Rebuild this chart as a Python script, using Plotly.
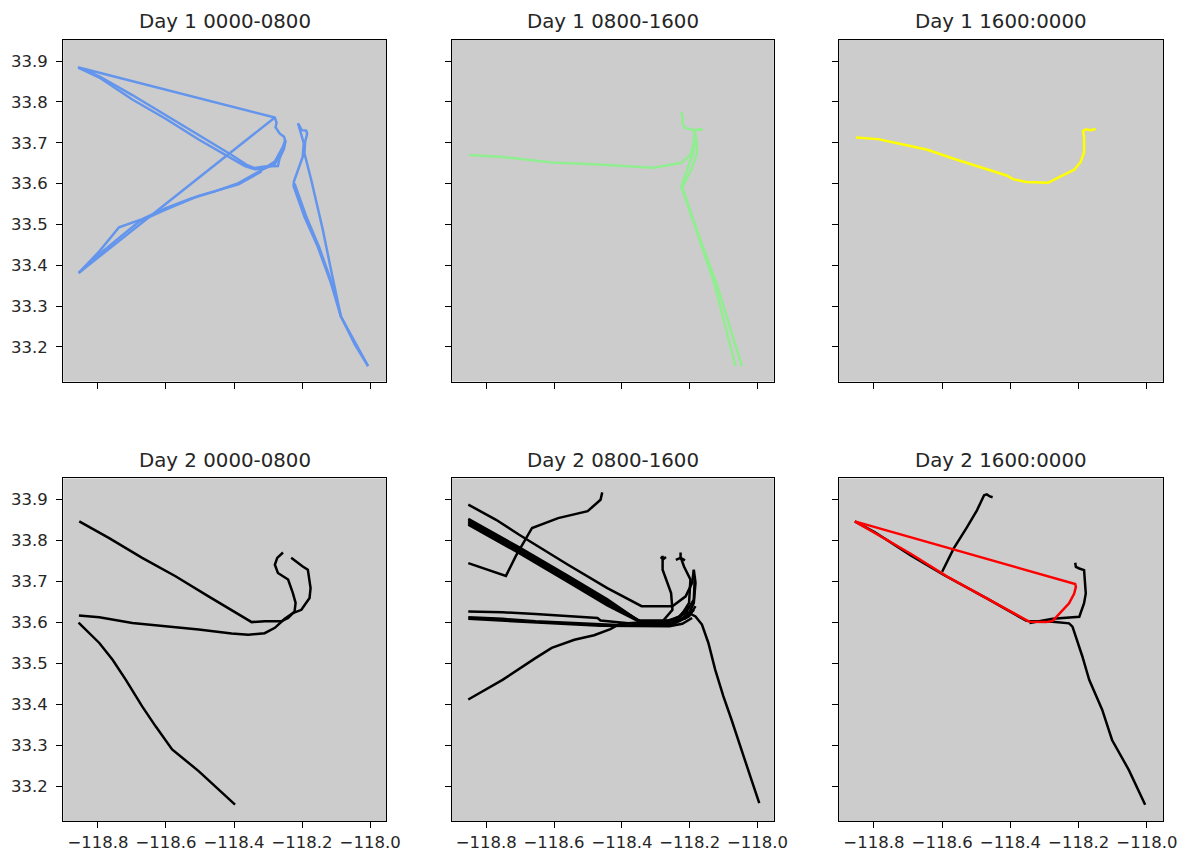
import plotly.graph_objects as go

# ---------------- data (lon / lat tracks per panel) ----------------
titles = ["Day 1 0000-0800", "Day 1 0800-1600", "Day 1 1600:0000",
          "Day 2 0000-0800", "Day 2 0800-1600", "Day 2 1600:0000"]

x_tickvals = [-118.8, -118.6, -118.4, -118.2, -118.0]
x_ticktext = ["\u2212118.8", "\u2212118.6", "\u2212118.4", "\u2212118.2", "\u2212118.0"]
y_tickvals = [33.2, 33.3, 33.4, 33.5, 33.6, 33.7, 33.8, 33.9]
y_ticktext = ["33.2", "33.3", "33.4", "33.5", "33.6", "33.7", "33.8", "33.9"]

# Day 1 0000-0800 (blue)
d1a_lon = [
    [-118.859, -118.280, -118.275, -118.278, -118.266, -118.253, -118.249, -118.253, -118.266, -118.271,
     -118.310, -118.339, -118.363, -118.407, -118.504, -118.601, -118.699, -118.796, -118.859],
    [-118.855, -118.796, -118.699, -118.601, -118.504, -118.417, -118.368, -118.339, -118.310, -118.280,
     -118.256, -118.249],
    [-118.857, -118.700, -118.550, -118.400, -118.280],
    [-118.857, -118.796, -118.738, -118.670, -118.601, -118.524, -118.456, -118.387, -118.319, -118.280,
     -118.256, -118.249],
    [-118.855, -118.806, -118.747, -118.679, -118.601, -118.504, -118.387, -118.319],
    [-118.212, -118.207, -118.195, -118.198, -118.212, -118.224, -118.225, -118.219, -118.193, -118.154,
     -118.115, -118.086, -118.042, -118.006],
    [-118.210, -118.201, -118.188, -118.185, -118.191, -118.193, -118.173, -118.139, -118.115, -118.086,
     -118.045, -118.006],
    [-118.222, -118.188, -118.150, -118.112, -118.086],
]
d1a_lat = [
    [33.885, 33.762, 33.749, 33.738, 33.723, 33.715, 33.703, 33.686, 33.662, 33.643,
     33.642, 33.638, 33.646, 33.670, 33.719, 33.768, 33.817, 33.863, 33.885],
    [33.883, 33.860, 33.806, 33.759, 33.708, 33.666, 33.643, 33.635, 33.637, 33.648, 33.684, 33.705],
    [33.381, 33.485, 33.584, 33.683, 33.762],
    [33.381, 33.434, 33.493, 33.513, 33.540, 33.564, 33.581, 33.601, 33.633, 33.654, 33.691, 33.707],
    [33.382, 33.420, 33.461, 33.507, 33.536, 33.570, 33.598, 33.630],
    [33.748, 33.735, 33.699, 33.666, 33.633, 33.605, 33.594, 33.580, 33.519, 33.446, 33.356, 33.275,
     33.206, 33.153],
    [33.745, 33.731, 33.730, 33.722, 33.703, 33.674, 33.609, 33.487, 33.389, 33.275, 33.206, 33.153],
    [33.600, 33.520, 33.445, 33.355, 33.275],
]

# Day 1 0800-1600 (green)
d1b_lon = [
    [-118.850, -118.761, -118.607, -118.471, -118.307, -118.225, -118.198, -118.188, -118.186, -118.162],
    [-118.225, -118.220, -118.222, -118.215, -118.186, -118.183, -118.191, -118.225, -118.181, -118.128,
     -118.065],
    [-118.162, -118.186, -118.179, -118.179, -118.196, -118.222, -118.176, -118.118, -118.046],
]
d1b_lat = [
    [33.670, 33.666, 33.652, 33.647, 33.639, 33.651, 33.670, 33.699, 33.731, 33.733],
    [33.776, 33.762, 33.748, 33.737, 33.731, 33.707, 33.674, 33.593, 33.487, 33.356, 33.153],
    [33.733, 33.731, 33.699, 33.673, 33.633, 33.591, 33.479, 33.348, 33.153],
]

# Day 1 1600:0000 (yellow)
d1c_lon = [
    [-118.853, -118.788, -118.721, -118.643, -118.566, -118.489, -118.411, -118.392, -118.353, -118.290,
     -118.247, -118.213, -118.194, -118.184, -118.184, -118.187, -118.179, -118.165, -118.150],
]
d1c_lat = [
    [33.713, 33.709, 33.697, 33.683, 33.661, 33.641, 33.620, 33.611, 33.604, 33.602,
     33.620, 33.634, 33.653, 33.677, 33.713, 33.729, 33.733, 33.731, 33.734],
]

# Day 2 0000-0800 (black)
d2a_lon = [
    [-118.855, -118.767, -118.670, -118.572, -118.475, -118.407, -118.348, -118.310, -118.261, -118.241,
     -118.222, -118.219, -118.227, -118.241, -118.256, -118.271, -118.280, -118.273, -118.256],
    [-118.856, -118.796, -118.699, -118.601, -118.504, -118.407, -118.358, -118.310, -118.280, -118.251,
     -118.227, -118.202, -118.178, -118.175, -118.183, -118.198, -118.212, -118.232],
    [-118.857, -118.825, -118.796, -118.757, -118.718, -118.670, -118.631, -118.582, -118.504, -118.397],
]
d2a_lat = [
    [33.847, 33.806, 33.758, 33.713, 33.664, 33.631, 33.601, 33.603, 33.603, 33.611,
     33.627, 33.648, 33.672, 33.705, 33.713, 33.721, 33.741, 33.758, 33.771],
    [33.617, 33.613, 33.599, 33.591, 33.583, 33.573, 33.570, 33.574, 33.587, 33.609,
     33.623, 33.631, 33.660, 33.684, 33.729, 33.737, 33.745, 33.758],
    [33.600, 33.574, 33.550, 33.509, 33.460, 33.395, 33.347, 33.290, 33.237, 33.155],
]

# Day 2 0800-1600 (black)
d2b_lon = [
    [-118.853, -118.771, -118.704, -118.559, -118.443, -118.342, -118.251, -118.212, -118.193, -118.188],
    [-118.853, -118.704, -118.559, -118.443, -118.352, -118.251, -118.212, -118.188, -118.185],
    [-118.853, -118.704, -118.559, -118.443, -118.347, -118.270, -118.227, -118.202, -118.198, -118.217,
     -118.227, -118.227],
    [-118.853, -118.704, -118.559, -118.443, -118.342, -118.280, -118.251, -118.255, -118.270, -118.280,
     -118.280, -118.280],
    [-118.853, -118.704, -118.559, -118.443, -118.337, -118.270, -118.231, -118.202],
    [-118.853, -118.704, -118.559, -118.443, -118.337, -118.260, -118.212, -118.188],
    [-118.286, -118.278, -118.270],
    [-118.241, -118.227, -118.214],
    [-118.853, -118.742, -118.713, -118.665, -118.588, -118.501, -118.463, -118.458],
    [-118.853, -118.752, -118.655, -118.559, -118.472, -118.463, -118.366, -118.270, -118.231, -118.202,
     -118.188, -118.183, -118.188],
    [-118.853, -118.752, -118.655, -118.559, -118.463, -118.366, -118.270, -118.241, -118.202, -118.183],
    [-118.853, -118.655, -118.463, -118.260, -118.222, -118.193],
    [-118.853, -118.752, -118.655, -118.607, -118.540, -118.482, -118.434, -118.405, -118.347, -118.270,
     -118.212, -118.188],
    [-118.212, -118.183, -118.164, -118.145, -118.125, -118.101, -118.077, -118.039, -118.015, -117.995],
]
d2b_lat = [
    [33.888, 33.851, 33.815, 33.741, 33.684, 33.640, 33.640, 33.664, 33.697, 33.729],
    [33.853, 33.784, 33.714, 33.657, 33.605, 33.605, 33.623, 33.656, 33.713],
    [33.850, 33.780, 33.710, 33.653, 33.603, 33.603, 33.615, 33.648, 33.705, 33.737, 33.760, 33.771],
    [33.846, 33.776, 33.706, 33.649, 33.601, 33.603, 33.631, 33.672, 33.705, 33.729, 33.749, 33.763],
    [33.843, 33.773, 33.702, 33.645, 33.599, 33.600, 33.615, 33.640],
    [33.839, 33.770, 33.699, 33.642, 33.597, 33.599, 33.611, 33.631],
    [33.760, 33.755, 33.760],
    [33.753, 33.758, 33.752],
    [33.745, 33.714, 33.762, 33.831, 33.855, 33.872, 33.900, 33.918],
    [33.627, 33.625, 33.621, 33.615, 33.611, 33.605, 33.597, 33.597, 33.605, 33.623, 33.648, 33.697, 33.729],
    [33.613, 33.609, 33.603, 33.599, 33.595, 33.592, 33.593, 33.599, 33.615, 33.640],
    [33.609, 33.600, 33.592, 33.591, 33.597, 33.611],
    [33.412, 33.460, 33.513, 33.538, 33.558, 33.569, 33.584, 33.597, 33.600, 33.600, 33.611, 33.631],
    [33.627, 33.615, 33.595, 33.550, 33.485, 33.420, 33.363, 33.265, 33.208, 33.159],
]

# Day 2 1600:0000 (black + one red track)
d2c_lon = [
    [-118.600, -118.566, -118.527, -118.498, -118.477, -118.469, -118.460, -118.452],
    [-118.856, -118.798, -118.692, -118.595, -118.469, -118.353, -118.276, -118.228, -118.218, -118.189,
     -118.169, -118.131, -118.102, -118.053, -118.005],
    [-118.344, -118.276, -118.198, -118.184, -118.179, -118.184, -118.198, -118.208, -118.210],
]
d2c_lat = [
    [33.724, 33.781, 33.833, 33.874, 33.911, 33.913, 33.908, 33.906],
    [33.847, 33.821, 33.764, 33.716, 33.659, 33.604, 33.602, 33.598, 33.590, 33.517,
     33.460, 33.387, 33.313, 33.240, 33.155],
    [33.599, 33.609, 33.614, 33.647, 33.671, 33.728, 33.732, 33.736, 33.746],
]
d2c_red_lon = [
    [-118.856, -118.759, -118.663, -118.566, -118.469, -118.373, -118.276, -118.210, -118.208, -118.213,
     -118.228, -118.257, -118.276, -118.295, -118.344, -118.353, -118.469, -118.585, -118.692, -118.856],
]
d2c_red_lat = [
    [33.847, 33.824, 33.801, 33.778, 33.756, 33.733, 33.709, 33.694, 33.687, 33.671,
     33.647, 33.622, 33.604, 33.601, 33.602, 33.606, 33.659, 33.712, 33.768, 33.847],
]

panel_tracks = [
    [(d1a_lon, d1a_lat, "#6495ED")],
    [(d1b_lon, d1b_lat, "#90EE90")],
    [(d1c_lon, d1c_lat, "#FFFF00")],
    [(d2a_lon, d2a_lat, "#000000")],
    [(d2b_lon, d2b_lat, "#000000")],
    [(d2c_lon, d2c_lat, "#000000"), (d2c_red_lon, d2c_red_lat, "#FF0000")],
]

# ---------------- layout geometry ----------------
W, H = 1198, 852
col_domains = [[64 / W, 391 / W], [457 / W, 783 / W], [849 / W, 1177 / W]]
row_domains = [[1 - 382 / H, 1 - 40 / H], [1 - 822 / H, 1 - 479 / H]]
title_y = [1 - 22 / H, 1 - 461 / H]
x_range = [-118.902, -117.952]
y_range = [33.115, 33.952]

FONT = "DejaVu Sans"
TXT = "#262626"

fig = go.Figure()
layout = dict(
    width=W, height=H,
    margin=dict(l=0, r=0, t=0, b=0),
    paper_bgcolor="white",
    plot_bgcolor="#cccccc",
    showlegend=False,
    font=dict(family=FONT, color=TXT, size=16.5),
    annotations=[],
)

for i in range(6):
    r, c = divmod(i, 3)
    n = i + 1
    xname = "x" if n == 1 else f"x{n}"
    yname = "y" if n == 1 else f"y{n}"
    for lons, lats, color in panel_tracks[i]:
        for lo, la in zip(lons, lats):
            fig.add_trace(go.Scatter(
                x=lo, y=la, mode="lines",
                line=dict(color=color, width=2.5),
                xaxis=xname, yaxis=yname, hoverinfo="skip",
            ))
    common = dict(
        showgrid=False, zeroline=False,
        showline=True, mirror=True, linecolor="black", linewidth=1.3,
        ticks="outside", ticklen=6, tickwidth=1.3, tickcolor="black",
        tickfont=dict(family=FONT, size=16.5, color=TXT),
    )
    layout["xaxis" if n == 1 else f"xaxis{n}"] = dict(
        domain=col_domains[c], anchor=yname, range=x_range,
        tickmode="array", tickvals=x_tickvals, ticktext=x_ticktext,
        showticklabels=(r == 1), **common,
    )
    layout["yaxis" if n == 1 else f"yaxis{n}"] = dict(
        domain=row_domains[r], anchor=xname, range=y_range,
        tickmode="array", tickvals=y_tickvals, ticktext=y_ticktext,
        showticklabels=(c == 0), ticklabelstandoff=5, **common,
    )
    layout["annotations"].append(dict(
        text=titles[i], xref="paper", yref="paper",
        x=(col_domains[c][0] + col_domains[c][1]) / 2, y=title_y[r],
        xanchor="center", yanchor="middle", showarrow=False,
        font=dict(family=FONT, size=19.8, color=TXT),
    ))

fig.update_layout(**layout)
fig.write_html("out.html")
